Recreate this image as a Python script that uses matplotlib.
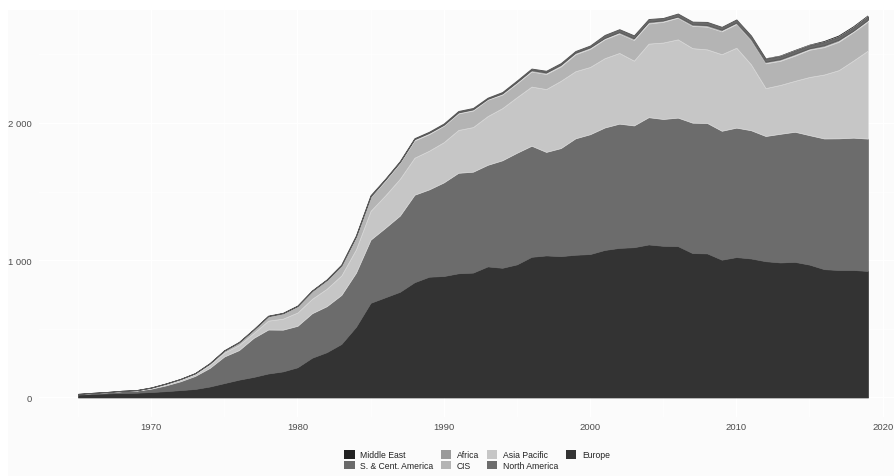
import numpy as np
import matplotlib
matplotlib.use("Agg")
import matplotlib.pyplot as plt
from matplotlib.patches import Rectangle, Patch
from matplotlib.ticker import FuncFormatter, MultipleLocator

plt.rcParams['font.family'] = ['Liberation Sans', 'DejaVu Sans']

# nuclear generation by region, 1965-2019
years = np.arange(1965, 2020)

europe = [21, 26, 30, 33, 35, 40, 46, 54, 62, 80,
          105, 130, 150, 175, 190, 220, 290, 330, 390, 515,
          690, 730, 770, 840, 880, 885, 905, 910, 955, 945,
          970, 1025, 1035, 1030, 1040, 1045, 1075, 1090, 1095, 1115,
          1105, 1103, 1052, 1050, 1004, 1023, 1013, 993, 984, 988,
          968, 935, 929, 929, 922]
north_america = [4, 6, 8, 13, 15, 24, 42, 64, 95, 135,
                 194, 215, 284, 320, 304, 302, 324, 335, 357, 394,
                 460, 506, 555, 637, 636, 682, 732, 735, 740, 783,
                 813, 809, 754, 787, 848, 873, 892, 905, 887, 927,
                 924, 936, 950, 950, 939, 943, 934, 912, 937, 948,
                 943, 952, 959, 964, 964]
asia_pacific = [0, 0.5, 0.5, 0.5, 1, 5, 9, 11, 12, 22,
                28, 37, 35, 65, 80, 97, 105, 127, 142, 170,
                210, 236, 268, 270, 282, 293, 312, 325, 355, 380,
                405, 431, 458, 490, 489, 490, 505, 515, 472, 536,
                557, 570, 543, 536, 558, 582, 480, 349, 356, 371,
                424, 466, 497, 562, 642]
cis = [1, 1, 1.5, 2, 2.5, 3.5, 4.5, 6, 8, 11,
       15, 20, 26, 33, 40, 48, 58, 65, 75, 90,
       100, 106, 115, 125, 120, 119, 120, 120, 119, 98,
       100, 109, 109, 104, 123, 131, 137, 141, 150, 146,
       150, 157, 162, 165, 166, 172, 175, 180, 175, 183,
       198, 199, 206, 207, 211]
africa = [0, 0, 0, 0, 0, 0, 0, 0, 0, 0,
          0, 0, 0, 0, 0, 0, 0, 0, 0, 5,
          5, 9, 7, 11, 11, 8, 9, 10, 7, 10,
          11, 12, 13, 14, 13, 13, 11, 12, 13, 14,
          12, 10, 12, 13, 13, 12, 13, 13, 14, 15,
          12, 15, 16, 11, 14]
sc_america = [0, 0, 0, 0, 0, 0, 0, 0, 0, 2,
              2.5, 2.5, 2, 3, 2.5, 2.5, 3, 3, 4, 6,
              9, 6, 7, 6, 7, 9, 9, 9, 8, 9,
              10, 10, 11, 11, 11, 12, 21, 20, 21, 19,
              17, 21, 19, 22, 20, 22, 22, 22, 20, 21,
              21, 23, 22, 23, 24]
middle_east = [0, 0, 0, 0, 0, 0, 0, 0, 0, 0,
               0, 0, 0, 0, 0, 0, 0, 0, 0, 0,
               0, 0, 0, 0, 0, 0, 0, 0, 0, 0,
               0, 0, 0, 0, 0, 0, 0, 0, 0, 0,
               0, 0, 0, 0, 0, 0, 0.1, 1.3, 4, 4.5,
               3.5, 6, 7, 7, 6]

# bottom -> top
layers = [europe, north_america, asia_pacific, cis, africa, sc_america, middle_east]
names = ['Europe', 'North America', 'Asia Pacific', 'CIS', 'Africa',
         'S. & Cent. America', 'Middle East']
colors = ['#333333', '#6c6c6c', '#c6c6c6', '#b4b4b4', '#9a9a9a', '#6a6a6a', '#222222']
edges = ['#333333', '#6c6c6c', '#dedede', '#d6d6d6', 'none', '#585858', 'none']

W, H = 894, 477
fig = plt.figure(figsize=(W/100, H/100), dpi=100, facecolor='white')
fig.patches.append(Rectangle((8/W, 0), 1 - 8/W, 1 - 11/H, transform=fig.transFigure,
                             facecolor='#fbfbfb', edgecolor='none', zorder=-10))

L, R, T, B = 38.5, 894, 11, 417.7
ax = fig.add_axes([L/W, 1 - B/H, (R - L)/W, (B - T)/H])
ax.set_facecolor('none')

polys = ax.stackplot(years, *layers, colors=colors, linewidth=0.5)
for p, ec in zip(polys, edges):
    p.set_edgecolor(ec)
polys[5].set_linewidth(0.7)

ax.set_xlim(1965 - (78 - L)/14.63, 2019 + (R - 868)/14.63)
ax.set_ylim(-140, 2823)

ax.xaxis.set_major_locator(MultipleLocator(10))
ax.xaxis.set_minor_locator(MultipleLocator(5))
ax.yaxis.set_major_locator(MultipleLocator(1000))
ax.yaxis.set_minor_locator(MultipleLocator(500))
ax.yaxis.set_major_formatter(FuncFormatter(lambda v, p: '{:,.0f}'.format(v).replace(',', ' ')))

ax.set_axisbelow(True)
ax.grid(which='major', color='white', linewidth=1.0)
ax.grid(which='minor', color='white', linewidth=0.5)
for s in ax.spines.values():
    s.set_visible(False)
ax.tick_params(which='both', length=0, labelsize=6.8, colors='#4d4d4d')
ax.tick_params(axis='x', pad=4)
ax.tick_params(axis='y', pad=5)

# legend, filled column-wise like the original
order = ['Middle East', 'S. & Cent. America', 'Africa', 'CIS',
         'Asia Pacific', 'North America', 'Europe']
handles = [Patch(facecolor=colors[names.index(n)], edgecolor='none', label=n) for n in order]
fig.legend(handles=handles, loc='center', bbox_to_anchor=(477/W, 1 - 461/H), ncol=4,
           frameon=False, fontsize=6.2, handlelength=1.2, handleheight=1.2,
           handletextpad=0.65, columnspacing=0.9, labelspacing=0.15, borderpad=0,
           labelcolor='#222222')

fig.savefig('out.png', dpi=100, facecolor=fig.get_facecolor())
